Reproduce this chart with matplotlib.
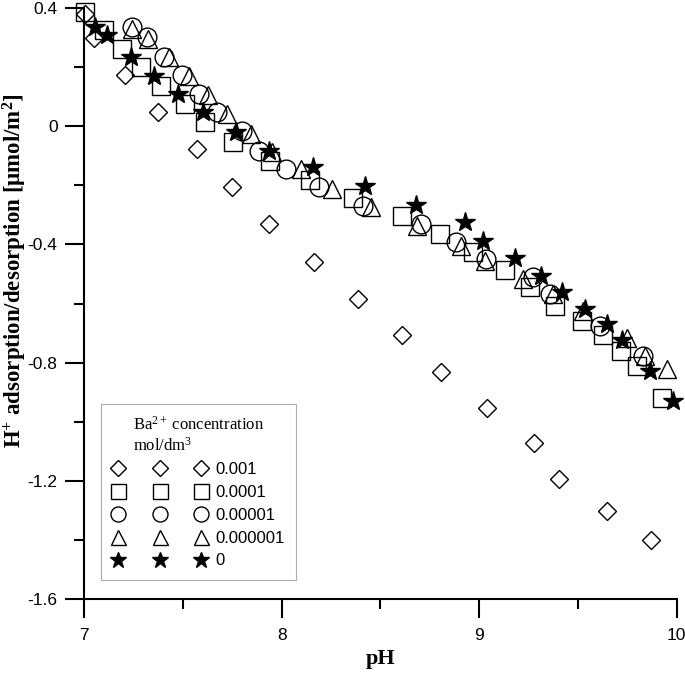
import matplotlib
matplotlib.use("Agg")
import matplotlib.pyplot as plt
from matplotlib.ticker import MultipleLocator, FixedLocator

plt.rcParams['axes.unicode_minus'] = False
plt.rcParams['mathtext.fontset'] = 'custom'
plt.rcParams['mathtext.rm'] = 'Liberation Serif'
plt.rcParams['mathtext.it'] = 'Liberation Serif:italic'
plt.rcParams['mathtext.bf'] = 'Liberation Serif:bold'

# Ba2+ 0.001 mol/dm3 (diamonds)
ph_001 = [7.005, 7.05, 7.21, 7.375, 7.57, 7.75, 7.935, 8.166, 8.385, 8.608, 8.806, 9.042, 9.275, 9.402, 9.645, 9.868]
h_001 = [0.38, 0.30, 0.175, 0.047, -0.078, -0.206, -0.330, -0.459, -0.584, -0.708, -0.833, -0.955, -1.072, -1.194, -1.302, -1.400]

# 0.0001 (squares)
ph_0001 = [7.005, 7.10, 7.19, 7.29, 7.39, 7.51, 7.61, 7.755, 7.94, 8.145, 8.363, 8.607, 8.804, 8.967, 9.129, 9.255, 9.382, 9.519, 9.625, 9.717, 9.80, 9.925]
h_0001 = [0.388, 0.327, 0.263, 0.20, 0.135, 0.074, 0.013, -0.054, -0.118, -0.182, -0.243, -0.303, -0.364, -0.425, -0.486, -0.543, -0.607, -0.658, -0.708, -0.762, -0.813, -0.921]

# 0.00001 (circles)
ph_00001 = [7.245, 7.32, 7.405, 7.497, 7.583, 7.675, 7.80, 7.887, 8.024, 8.191, 8.41, 8.708, 8.885, 9.037, 9.27, 9.357, 9.61, 9.828]
h_00001 = [0.337, 0.303, 0.236, 0.175, 0.108, 0.047, -0.017, -0.084, -0.145, -0.206, -0.27, -0.331, -0.391, -0.449, -0.509, -0.567, -0.675, -0.776]

# 0.000001 (triangles)
ph_000001 = [7.243, 7.324, 7.43, 7.53, 7.63, 7.725, 7.846, 7.95, 8.10, 8.257, 8.455, 8.683, 8.91, 9.027, 9.22, 9.372, 9.524, 9.747, 9.838, 9.95]
h_000001 = [0.33, 0.297, 0.233, 0.169, 0.105, 0.04, -0.027, -0.088, -0.145, -0.212, -0.273, -0.337, -0.405, -0.455, -0.516, -0.567, -0.624, -0.718, -0.776, -0.82]

# 0 (stars)
ph_0 = [7.056, 7.117, 7.24, 7.355, 7.476, 7.60, 7.77, 7.937, 8.16, 8.424, 8.678, 8.926, 9.017, 9.18, 9.311, 9.418, 9.534, 9.646, 9.722, 9.864, 9.98]
h_0 = [0.337, 0.31, 0.236, 0.169, 0.108, 0.047, -0.02, -0.084, -0.138, -0.202, -0.266, -0.324, -0.388, -0.445, -0.506, -0.56, -0.617, -0.668, -0.725, -0.83, -0.931]

labels = ["0.001", "0.0001", "0.00001", "0.000001", "0"]
x_ticks = [7, 8, 9, 10]
y_ticks = [0.4, 0, -0.4, -0.8, -1.2, -1.6]
y_ticklabels = ["0.4", "0", "-0.4", "-0.8", "-1.2", "-1.6"]

fig = plt.figure(figsize=(6.85, 6.73), dpi=100)
ax = fig.add_axes([0.1226, 0.11, 0.8654, 0.878])

series = [
    (ph_001, h_001, 'D', 9.6, 'white'),
    (ph_0001, h_0001, 's', 13.5, 'white'),
    (ph_00001, h_00001, 'o', 13.5, 'white'),
    (ph_000001, h_000001, '^', 13.5, 'white'),
    (ph_0, h_0, '*', 15, 'black'),
]
for (xs, ys, m, ms, fc), lab in zip(series, labels):
    ax.plot(xs, ys, linestyle='none', marker=m, markersize=ms,
            markerfacecolor='none' if fc == 'white' else fc,
            markeredgecolor='black', markeredgewidth=1.0, label=lab,
            clip_on=False)

ax.set_xlim(7, 10)
ax.set_ylim(-1.6, 0.4)
ax.spines['top'].set_visible(False)
ax.spines['right'].set_visible(False)
ax.spines['left'].set_linewidth(1.5)
ax.spines['bottom'].set_linewidth(1.5)

ax.xaxis.set_major_locator(FixedLocator(x_ticks))
ax.xaxis.set_minor_locator(MultipleLocator(0.5))
ax.yaxis.set_major_locator(FixedLocator(y_ticks))
ax.set_yticklabels(y_ticklabels)
ax.yaxis.set_minor_locator(MultipleLocator(0.2))
ax.tick_params(axis='both', which='major', direction='out', length=14, width=1.5,
               labelsize=12.5)
ax.tick_params(axis='x', which='major', pad=7)
ax.tick_params(axis='y', which='major', pad=5)
ax.tick_params(axis='both', which='minor', direction='out', length=7, width=1.5)
for lab in ax.get_xticklabels() + ax.get_yticklabels():
    lab.set_fontfamily('Liberation Sans')

ax.set_xlabel('pH', fontfamily='Liberation Serif', fontweight='bold', fontsize=16, labelpad=4)
ax.set_ylabel(r'H$^\mathbf{+}$ adsorption/desorption [μmol/m$^\mathbf{2}$]',
              fontfamily='Liberation Serif', fontweight='bold', fontsize=16.5)
ax.yaxis.set_label_coords(-0.092, 0.555)

leg_handles = []
for (xs, ys, m, ms, fc), lab in zip(series, labels):
    lh, = ax.plot([], [], linestyle='none', marker=m, markersize=ms * 0.8,
                  markerfacecolor='none' if fc == 'white' else fc,
                  markeredgecolor='black', markeredgewidth=1.0, label=lab)
    leg_handles.append(lh)

leg = ax.legend(handles=leg_handles, labels=labels, numpoints=3,
                loc='lower left', bbox_to_anchor=(0.029, 0.032),
                bbox_transform=ax.transAxes, borderaxespad=0,
                title='Ba$^{2+}$ concentration\nmol/dm$^{3}$',
                prop={'family': 'Liberation Sans', 'size': 12},
                title_fontproperties={'family': 'Liberation Serif', 'size': 12},
                handlelength=5.6, handletextpad=0.55, labelspacing=0.47,
                borderpad=0.7, fancybox=False, frameon=True)
leg.get_frame().set_edgecolor('#999999')
leg.get_frame().set_linewidth(0.8)

fig.savefig('out.png', dpi=100)
